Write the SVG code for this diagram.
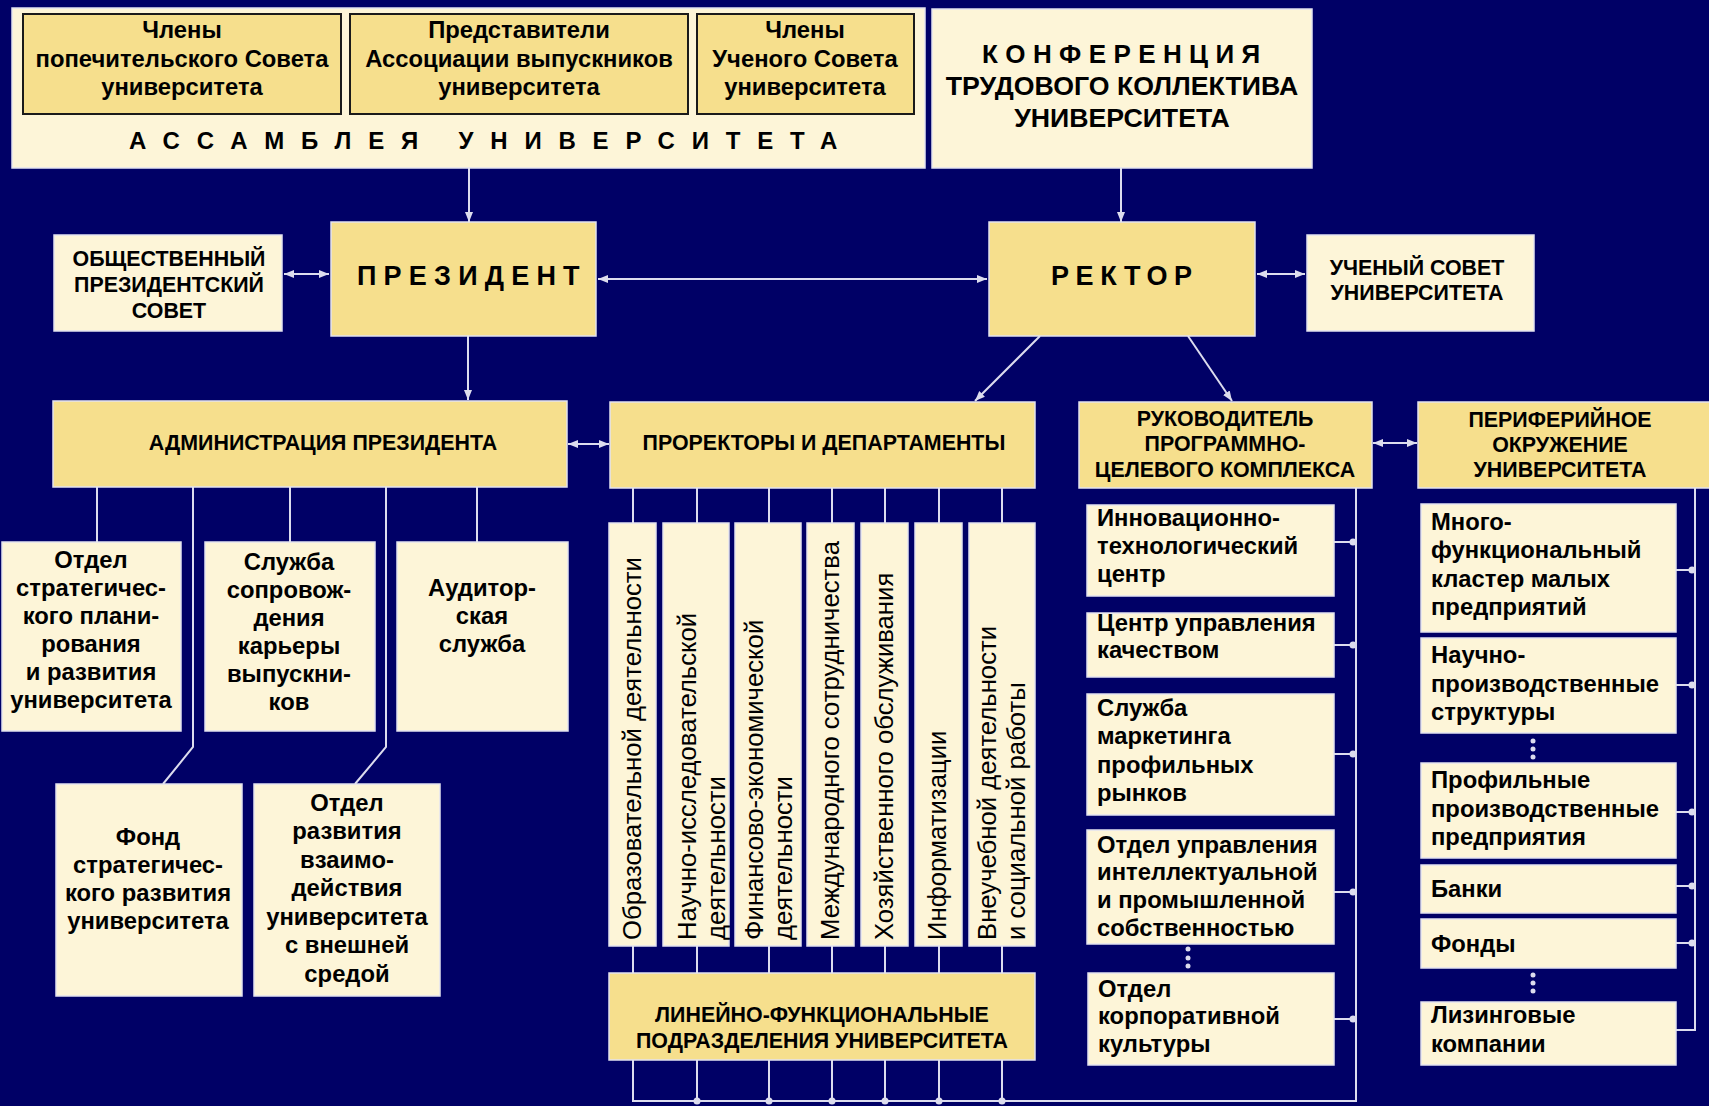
<svg xmlns="http://www.w3.org/2000/svg" width="1709" height="1106" viewBox="0 0 1709 1106">
<defs>
<style>
.y{fill:#F6DF8D;stroke:#E2E2F0;stroke-width:1.5}
.c{fill:#FDF5D8;stroke:#E2E2F0;stroke-width:1.5}
.yk{fill:#F6DF8D;stroke:#1a1a1a;stroke-width:2}
text{font-family:"Liberation Sans",Arial,sans-serif;fill:#000}
.t{font-weight:bold;font-size:23.8px}
.h{font-weight:bold;font-size:21.4px}
.m{text-anchor:middle}
.v{font-size:25.7px}
.ln{stroke:#DCDCEE;stroke-width:2;fill:none}
.ar{stroke:#DCDCEE;stroke-width:2;fill:none;marker-end:url(#a)}
.ar2{stroke:#DCDCEE;stroke-width:2;fill:none;marker-end:url(#a);marker-start:url(#a)}
.d{fill:#DCDCEE}
</style>
<marker id="a" viewBox="0 0 10 10" refX="10" refY="5" markerWidth="10" markerHeight="10" markerUnits="userSpaceOnUse" orient="auto-start-reverse"><path d="M0,1 L10,5 L0,9 z" fill="#DCDCEE"/></marker>
</defs>
<rect width="1709" height="1106" fill="#000066"/>

<g id="connectors">
<path class="ar" d="M469,168 V222"/>
<path class="ar" d="M1121,168 V222"/>
<path class="ar2" d="M284,274 H329"/>
<path class="ar2" d="M598,279 H987"/>
<path class="ar2" d="M1257,274 H1305"/>
<path class="ar" d="M468,336 V400"/>
<path class="ar2" d="M568,444 H609"/>
<path class="ar" d="M1040,336 L975,401"/>
<path class="ar" d="M1188,336 L1232,401"/>
<path class="ar2" d="M1373,443 H1417"/>
<path class="ln" d="M97,487 V542 M290,487 V542 M477,487 V542 M193,487 V747 L163,784 M386,487 V747 L355,784"/>
<path class="ln" d="M633,488 V523 M697,488 V523 M769,488 V523 M832,488 V523 M885,488 V523 M939,488 V523 M1002,488 V523"/>
<path class="ln" d="M633,946 V973 M697,946 V973 M769,946 V973 M832,946 V973 M885,946 V973 M939,946 V973 M1002,946 V973"/>
<path class="ln" d="M633,1060 V1101 H1356 V488 M697,1060 V1101 M769,1060 V1101 M832,1060 V1101 M885,1060 V1101 M939,1060 V1101 M1002,1060 V1101"/>
<path class="ln" d="M1334,542 H1356 M1334,645 H1356 M1334,754 H1356 M1334,892 H1356 M1334,1019 H1356"/>
<path class="ln" d="M1695,488 V1030 H1676 M1676,570 H1695 M1676,685 H1695 M1676,812 H1695 M1676,886 H1695 M1676,943 H1695"/>
<g class="d">
<circle cx="697" cy="1101" r="3.5"/><circle cx="769" cy="1101" r="3.5"/><circle cx="832" cy="1101" r="3.5"/><circle cx="885" cy="1101" r="3.5"/><circle cx="939" cy="1101" r="3.5"/><circle cx="1002" cy="1101" r="3.5"/>
<circle cx="1353" cy="542" r="3.5"/><circle cx="1353" cy="645" r="3.5"/><circle cx="1353" cy="754" r="3.5"/><circle cx="1353" cy="892" r="3.5"/><circle cx="1353" cy="1019" r="3.5"/>
<circle cx="1692" cy="570" r="3.5"/><circle cx="1692" cy="685" r="3.5"/><circle cx="1692" cy="812" r="3.5"/><circle cx="1692" cy="886" r="3.5"/><circle cx="1692" cy="943" r="3.5"/>
<circle cx="1188" cy="949" r="2.5"/><circle cx="1188" cy="958" r="2.5"/><circle cx="1188" cy="966" r="2.5"/>
<circle cx="1533" cy="741" r="2.5"/><circle cx="1533" cy="749" r="2.5"/><circle cx="1533" cy="757" r="2.5"/>
<circle cx="1533" cy="975" r="2.5"/><circle cx="1533" cy="983" r="2.5"/><circle cx="1533" cy="991" r="2.5"/>
</g>
</g>

<g id="assembly">
<rect class="c" x="12" y="8" width="913" height="160"/>
<rect class="yk" x="23" y="14" width="318" height="100"/>
<rect class="yk" x="350" y="14" width="338" height="100"/>
<rect class="yk" x="697" y="14" width="217" height="100"/>
<text class="t m"><tspan x="182" y="38">Члены</tspan><tspan x="182" y="67">попечительского Совета</tspan><tspan x="182" y="95">университета</tspan></text>
<text class="t m"><tspan x="519" y="38">Представители</tspan><tspan x="519" y="67">Ассоциации выпускников</tspan><tspan x="519" y="95">университета</tspan></text>
<text class="t m"><tspan x="805" y="38">Члены</tspan><tspan x="805" y="67">Ученого Совета</tspan><tspan x="805" y="95">университета</tspan></text>
<text style="font-weight:bold;font-size:24px" x="129" y="149" letter-spacing="16.8">АССАМБЛЕЯ УНИВЕРСИТЕТА</text>
</g>

<g id="conference">
<rect class="c" x="932" y="9" width="380" height="159"/>
<text style="font-weight:bold;font-size:26px" x="982" y="63" letter-spacing="7.4">КОНФЕРЕНЦИЯ</text>
<text class="m" style="font-weight:bold;font-size:26.7px" x="1122" y="95">ТРУДОВОГО КОЛЛЕКТИВА</text>
<text class="m" style="font-weight:bold;font-size:26.7px" x="1122" y="127">УНИВЕРСИТЕТА</text>
</g>

<g id="public-council">
<rect class="c" x="54" y="235" width="228" height="96"/>
<text class="h m"><tspan x="169" y="266">ОБЩЕСТВЕННЫЙ</tspan><tspan x="169" y="292">ПРЕЗИДЕНТСКИЙ</tspan><tspan x="169" y="318">СОВЕТ</tspan></text>
</g>

<g id="president">
<rect class="y" x="331" y="222" width="265" height="114"/>
<text style="font-weight:bold;font-size:27px" x="357" y="285" letter-spacing="7.2">ПРЕЗИДЕНТ</text>
</g>

<g id="rector">
<rect class="y" x="989" y="222" width="266" height="114"/>
<text style="font-weight:bold;font-size:27px" x="1051" y="285" letter-spacing="6.6">РЕКТОР</text>
</g>

<g id="academic-council">
<rect class="c" x="1307" y="235" width="227" height="96"/>
<text class="h m"><tspan x="1417" y="275">УЧЕНЫЙ СОВЕТ</tspan><tspan x="1417" y="300">УНИВЕРСИТЕТА</tspan></text>
</g>

<g id="administration">
<rect class="y" x="53" y="401" width="514" height="86"/>
<text class="h m" x="323" y="450">АДМИНИСТРАЦИЯ ПРЕЗИДЕНТА</text>
</g>

<g id="prorectors">
<rect class="y" x="610" y="402" width="425" height="86"/>
<text class="h m" x="824" y="450">ПРОРЕКТОРЫ И ДЕПАРТАМЕНТЫ</text>
</g>

<g id="program-head">
<rect class="y" x="1079" y="402" width="293" height="86"/>
<text class="h m"><tspan x="1225" y="426">РУКОВОДИТЕЛЬ</tspan><tspan x="1225" y="451">ПРОГРАММНО-</tspan><tspan x="1225" y="477">ЦЕЛЕВОГО КОМПЛЕКСА</tspan></text>
</g>

<g id="periphery">
<rect class="y" x="1418" y="402" width="300" height="86"/>
<text class="h m"><tspan x="1560" y="427">ПЕРИФЕРИЙНОЕ</tspan><tspan x="1560" y="452">ОКРУЖЕНИЕ</tspan><tspan x="1560" y="477">УНИВЕРСИТЕТА</tspan></text>
</g>

<g id="strategic-planning">
<rect class="c" x="2" y="542" width="179" height="189"/>
<text class="t m"><tspan x="91" y="568">Отдел</tspan><tspan x="91" y="596">стратегичес-</tspan><tspan x="91" y="624">кого плани-</tspan><tspan x="91" y="652">рования</tspan><tspan x="91" y="680">и развития</tspan><tspan x="91" y="708">университета</tspan></text>
</g>

<g id="career-service">
<rect class="c" x="205" y="542" width="170" height="189"/>
<text class="t m"><tspan x="289" y="570">Служба</tspan><tspan x="289" y="598">сопровож-</tspan><tspan x="289" y="626">дения</tspan><tspan x="289" y="654">карьеры</tspan><tspan x="289" y="682">выпускни-</tspan><tspan x="289" y="710">ков</tspan></text>
</g>

<g id="audit">
<rect class="c" x="397" y="542" width="171" height="189"/>
<text class="t m"><tspan x="482" y="596">Аудитор-</tspan><tspan x="482" y="624">ская</tspan><tspan x="482" y="652">служба</tspan></text>
</g>

<g id="fund">
<rect class="c" x="56" y="784" width="186" height="212"/>
<text class="t m"><tspan x="148" y="845">Фонд</tspan><tspan x="148" y="873">стратегичес-</tspan><tspan x="148" y="901">кого развития</tspan><tspan x="148" y="929">университета</tspan></text>
</g>

<g id="external-dept">
<rect class="c" x="254" y="784" width="186" height="212"/>
<text class="t m"><tspan x="347" y="811">Отдел</tspan><tspan x="347" y="839">развития</tspan><tspan x="347" y="868">взаимо-</tspan><tspan x="347" y="896">действия</tspan><tspan x="347" y="925">университета</tspan><tspan x="347" y="953">с внешней</tspan><tspan x="347" y="982">средой</tspan></text>
</g>

<g id="dept-education">
<rect class="c" x="609" y="523" width="47" height="423"/>
<text class="v" transform="translate(641,940) rotate(-90)">Образовательной деятельности</text>
</g>
<g id="dept-research">
<rect class="c" x="663" y="523" width="66" height="423"/>
<text class="v" transform="translate(696,940) rotate(-90)"><tspan x="0" y="0">Научно-исследовательской</tspan><tspan x="0" y="29">деятельности</tspan></text>
</g>
<g id="dept-finance">
<rect class="c" x="735" y="523" width="66" height="423"/>
<text class="v" transform="translate(763,940) rotate(-90)"><tspan x="0" y="0">Финансово-экономической</tspan><tspan x="0" y="29">деятельности</tspan></text>
</g>
<g id="dept-international">
<rect class="c" x="807" y="523" width="47" height="423"/>
<text class="v" transform="translate(839,940) rotate(-90)">Международного сотрудничества</text>
</g>
<g id="dept-economy">
<rect class="c" x="861" y="523" width="47" height="423"/>
<text class="v" transform="translate(893,940) rotate(-90)">Хозяйственного обслуживания</text>
</g>
<g id="dept-it">
<rect class="c" x="915" y="523" width="47" height="423"/>
<text class="v" transform="translate(946,940) rotate(-90)">Информатизации</text>
</g>
<g id="dept-social">
<rect class="c" x="969" y="523" width="66" height="423"/>
<text class="v" transform="translate(996,940) rotate(-90)"><tspan x="0" y="0">Внеучебной деятельности</tspan><tspan x="0" y="29">и социальной работы</tspan></text>
</g>

<g id="linear">
<rect class="y" x="609" y="973" width="426" height="87"/>
<text class="h m"><tspan x="822" y="1022">ЛИНЕЙНО-ФУНКЦИОНАЛЬНЫЕ</tspan><tspan x="822" y="1048">ПОДРАЗДЕЛЕНИЯ УНИВЕРСИТЕТА</tspan></text>
</g>

<g id="innovation">
<rect class="c" x="1087" y="505" width="247" height="91"/>
<text class="t"><tspan x="1097" y="526">Инновационно-</tspan><tspan x="1097" y="554">технологический</tspan><tspan x="1097" y="582">центр</tspan></text>
</g>
<g id="quality">
<rect class="c" x="1087" y="613" width="247" height="64"/>
<text class="t"><tspan x="1097" y="631">Центр управления</tspan><tspan x="1097" y="658">качеством</tspan></text>
</g>
<g id="marketing">
<rect class="c" x="1087" y="694" width="247" height="121"/>
<text class="t"><tspan x="1097" y="716">Служба</tspan><tspan x="1097" y="744">маркетинга</tspan><tspan x="1097" y="773">профильных</tspan><tspan x="1097" y="801">рынков</tspan></text>
</g>
<g id="ip">
<rect class="c" x="1087" y="830" width="247" height="114"/>
<text class="t"><tspan x="1097" y="853">Отдел управления</tspan><tspan x="1097" y="880">интеллектуальной</tspan><tspan x="1097" y="908">и промышленной</tspan><tspan x="1097" y="936">собственностью</tspan></text>
</g>
<g id="corporate">
<rect class="c" x="1088" y="973" width="246" height="92"/>
<text class="t"><tspan x="1098" y="997">Отдел</tspan><tspan x="1098" y="1024">корпоративной</tspan><tspan x="1098" y="1052">культуры</tspan></text>
</g>

<g id="cluster">
<rect class="c" x="1421" y="504" width="255" height="128"/>
<text class="t"><tspan x="1431" y="530">Много-</tspan><tspan x="1431" y="558">функциональный</tspan><tspan x="1431" y="587">кластер малых</tspan><tspan x="1431" y="615">предприятий</tspan></text>
</g>
<g id="research-prod">
<rect class="c" x="1421" y="638" width="255" height="95"/>
<text class="t"><tspan x="1431" y="663">Научно-</tspan><tspan x="1431" y="692">производственные</tspan><tspan x="1431" y="720">структуры</tspan></text>
</g>
<g id="profile-ent">
<rect class="c" x="1421" y="763" width="255" height="95"/>
<text class="t"><tspan x="1431" y="788">Профильные</tspan><tspan x="1431" y="817">производственные</tspan><tspan x="1431" y="845">предприятия</tspan></text>
</g>
<g id="banks">
<rect class="c" x="1421" y="865" width="255" height="48"/>
<text class="t" x="1431" y="897">Банки</text>
</g>
<g id="funds">
<rect class="c" x="1421" y="919" width="255" height="49"/>
<text class="t" x="1431" y="952">Фонды</text>
</g>
<g id="leasing">
<rect class="c" x="1421" y="1002" width="255" height="63"/>
<text class="t"><tspan x="1431" y="1023">Лизинговые</tspan><tspan x="1431" y="1052">компании</tspan></text>
</g>
</svg>
